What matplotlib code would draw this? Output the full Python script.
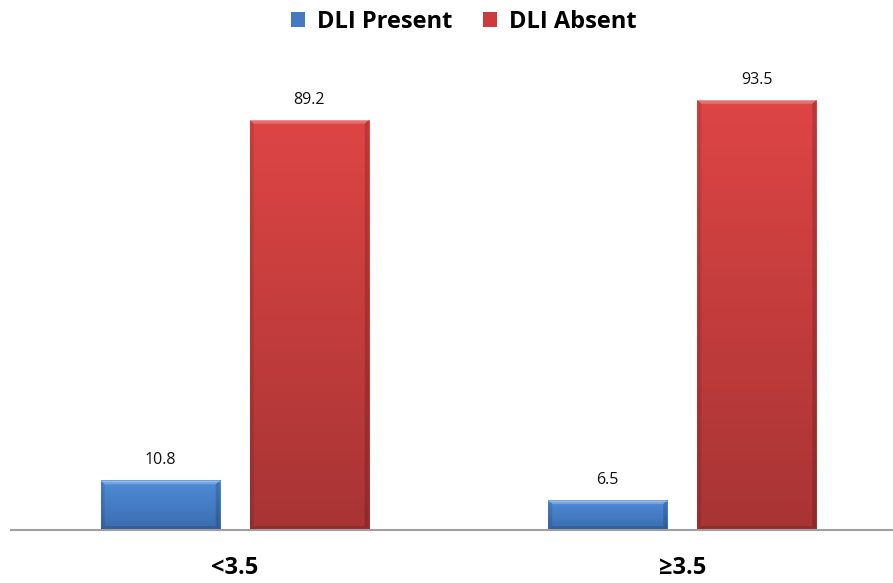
import numpy as np
import matplotlib
matplotlib.use("Agg")
import matplotlib.pyplot as plt
from matplotlib.patches import Patch, Polygon
from matplotlib.colors import LinearSegmentedColormap

plt.rcParams['font.family'] = ['Open Sans', 'DejaVu Sans']

categories = ["<3.5", "\u22653.5"]
series_names = ["DLI Present", "DLI Absent"]
dli_present = [10.8, 6.5]
dli_absent = [89.2, 93.5]

# colour ramps for the bevelled bars: (top, bottom)
ramps = {
    "DLI Present": ("#4f8cd8", "#3a6cb0"),
    "DLI Absent": ("#de4545", "#a83434"),
}
face_colors = {"DLI Present": "#4579c4", "DLI Absent": "#cc3c3c"}

fig = plt.figure(figsize=(8.93, 5.83), dpi=100)
ax = fig.add_axes([11 / 893, 53 / 583, 882 / 893, 460 / 583])

x = np.arange(len(categories))
width = 0.266
offset = 0.1665
ax.set_xlim(-0.5, 1.471)
ax.set_ylim(0, 100)

# size of one pixel in data units
px_x = (1.471 + 0.5) / 882
px_y = 100 / 460


def gradient_bar(rect, top, bottom):
    x0, y0 = rect.get_x(), rect.get_y()
    w, h = rect.get_width(), rect.get_height()
    x1, y1 = x0 + w, y0 + h
    cmap = LinearSegmentedColormap.from_list("g", [bottom, top])
    grad = np.linspace(0, 1, 256).reshape(-1, 1)
    im = ax.imshow(grad, extent=(x0, x1, y0, y1), origin="lower",
                   cmap=cmap, aspect="auto", zorder=2)
    im.set_clip_path(rect)
    bx, by = 4 * px_x, 4 * px_y
    # top bevel (light)
    ax.add_patch(Polygon([(x0, y1), (x1, y1), (x1 - bx, y1 - by), (x0 + bx, y1 - by)],
                         closed=True, facecolor="white", alpha=0.22, lw=0, zorder=2.2))
    ax.plot([x0, x1], [y1 - 0.5 * px_y] * 2, color="white", alpha=0.25, lw=1, zorder=2.3)
    # side bevels (dark)
    ax.add_patch(Polygon([(x0, y1), (x0 + bx, y1 - by), (x0 + bx, y0 + by), (x0, y0)],
                         closed=True, facecolor="black", alpha=0.10, lw=0, zorder=2.2))
    ax.add_patch(Polygon([(x1, y1), (x1 - bx, y1 - by), (x1 - bx, y0 + by), (x1, y0)],
                         closed=True, facecolor="black", alpha=0.16, lw=0, zorder=2.2))
    # bottom bevel (dark)
    ax.add_patch(Polygon([(x0, y0), (x1, y0), (x1 - bx, y0 + by), (x0 + bx, y0 + by)],
                         closed=True, facecolor="black", alpha=0.12, lw=0, zorder=2.2))
    rect.set_facecolor("none")


for vals, name, sign in [(dli_present, "DLI Present", -1), (dli_absent, "DLI Absent", 1)]:
    bars = ax.bar(x + sign * offset, vals, width, color=face_colors[name],
                  edgecolor="none", zorder=1)
    for rect, v in zip(bars, vals):
        gradient_bar(rect, *ramps[name])
        ax.text(rect.get_x() + rect.get_width() / 2, v + 2.6, f"{v}",
                ha="center", va="bottom", fontsize=11.5, color="#111111")

ax.set_xticks(x)
ax.set_xticklabels(categories, fontsize=17, fontweight="bold")
ax.tick_params(axis="x", length=0, pad=19)
ax.set_yticks([])
for s in ["top", "right", "left"]:
    ax.spines[s].set_visible(False)
ax.spines["bottom"].set_color("#a0a0a0")
ax.spines["bottom"].set_linewidth(1.5)
ax.spines["bottom"].set_zorder(3)

handles = [Patch(facecolor=face_colors[n], edgecolor="none") for n in series_names]
fig.legend(handles, series_names, loc="center", bbox_to_anchor=(464 / 893, 1 - 22 / 583),
           ncol=2, frameon=False, prop={"size": 17, "weight": "bold"},
           handlelength=0.6, handleheight=0.6, handletextpad=0.5, columnspacing=1.3)

fig.savefig("out.png", dpi=100)
